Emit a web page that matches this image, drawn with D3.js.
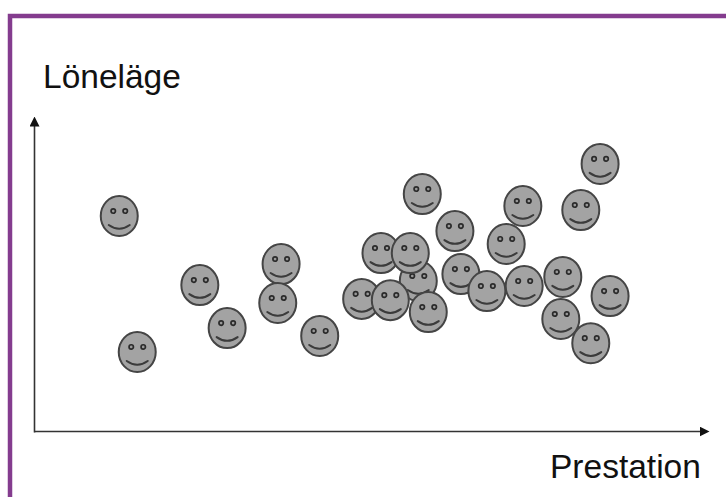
<!DOCTYPE html>
<html>
<head>
<meta charset="utf-8">
<script src="https://cdn.jsdelivr.net/npm/d3@7"></script>
<style>
  body { margin: 0; background: #fff; }
  svg { display: block; }
  text { font-family: "Liberation Sans", Arial, sans-serif; fill: #111; }
</style>
</head>
<body>
<div id="chart"></div>
<script>
// back to front
const prestation = [12.8, 15.5, 24.9, 29, 37.1, 36.6, 42.9, 49.2, 57.7, 52.1, 56.5, 53.5, 59.2, 58.3, 63.2, 64.1, 68, 70.9, 73.4, 73.6, 79.4, 79.1, 82.1, 85, 86.5, 83.6];
const lonelage = [68.8, 25.5, 46.8, 33.1, 53.5, 41.1, 30.6, 42.4, 48.1, 57, 57, 42, 38.2, 75.8, 64, 50.3, 44.9, 59.9, 72, 46.5, 49.4, 36, 70.7, 85.4, 43.3, 28.3];
const xLabel = "Prestation";
const yLabel = "Löneläge";

const width = 726, height = 497;

const x = d3.scaleLinear().domain([0, 100]).range([34, 700]);
const y = d3.scaleLinear().domain([0, 97.8]).range([432, 125]);

const svg = d3.select("#chart").append("svg")
    .attr("width", width)
    .attr("height", height);

// slight softness, the original is a scaled up image
const defs = svg.append("defs");
defs.append("filter")
    .attr("id", "soft")
    .append("feGaussianBlur")
    .attr("stdDeviation", 0.45);

// purple frame, open to the right and bottom
svg.append("path")
    .attr("d", "M10,497 V16 H726")
    .attr("fill", "none")
    .attr("stroke", "#843c8e")
    .attr("stroke-width", 4.5);

defs.append("marker")
    .attr("id", "arrow")
    .attr("viewBox", "0 0 10 10")
    .attr("refX", 1)
    .attr("refY", 5)
    .attr("markerUnits", "userSpaceOnUse")
    .attr("markerWidth", 10)
    .attr("markerHeight", 10)
    .attr("orient", "auto")
  .append("path")
    .attr("d", "M0,0 L10,5 L0,10 Z")
    .attr("fill", "#111");

// axes
svg.append("g")
    .attr("transform", "translate(0,431)")
    .call(d3.axisBottom(x).tickValues([]).tickSizeOuter(0));

svg.append("g")
    .attr("transform", "translate(34,0)")
    .call(d3.axisLeft(y).tickValues([]).tickSizeOuter(0));

svg.selectAll(".domain")
    .attr("stroke", "#333")
    .attr("stroke-width", 1.6)
    .attr("marker-end", "url(#arrow)");

svg.append("text")
    .attr("x", 43)
    .attr("y", 88)
    .attr("font-size", "33.5px")
    .text(yLabel);

svg.append("text")
    .attr("x", 550)
    .attr("y", 478)
    .attr("font-size", "33.5px")
    .text(xLabel);

// smileys
const faces = svg.selectAll(".face")
    .data(prestation.map((p, i) => ({ p: p, l: lonelage[i] })))
    .join("g")
      .attr("class", "face")
      .attr("filter", "url(#soft)")
      .attr("transform", d => `translate(${x(d.p)},${y(d.l)})`);

faces.append("ellipse")
    .attr("rx", 18.5)
    .attr("ry", 20)
    .attr("fill", "#a3a3a3")
    .attr("stroke", "#444")
    .attr("stroke-width", 2);

faces.selectAll(".eye")
    .data([-6, 6])
    .join("circle")
      .attr("class", "eye")
      .attr("cx", d => d)
      .attr("cy", -5)
      .attr("r", 2.2)
      .attr("fill", "#999")
      .attr("stroke", "#2a2a2a")
      .attr("stroke-width", 1.7);

faces.append("path")
    .attr("d", "M-10.5,9 Q0,16.5 10.5,9")
    .attr("fill", "none")
    .attr("stroke", "#3a3a3a")
    .attr("stroke-width", 2)
    .attr("stroke-linecap", "round");
</script>
</body>
</html>
